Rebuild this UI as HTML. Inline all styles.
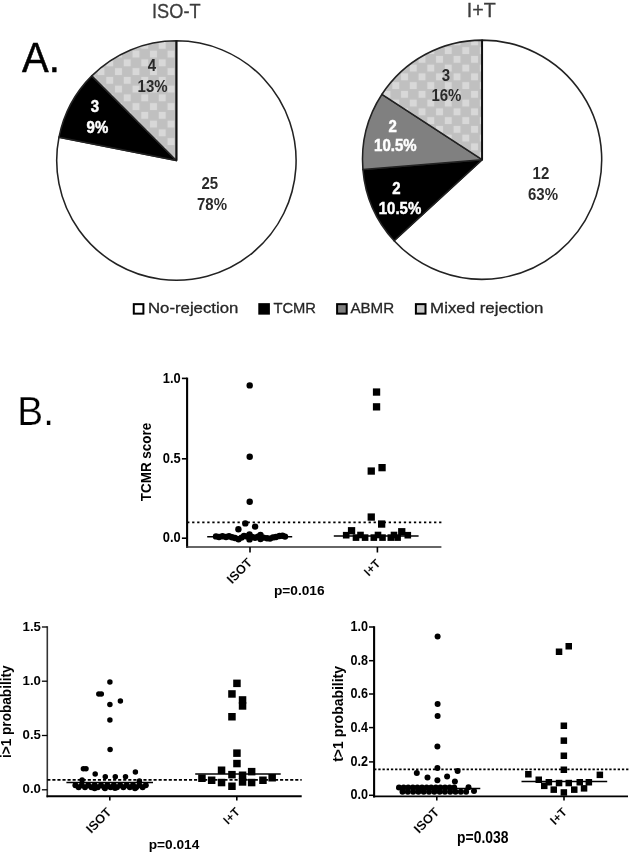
<!DOCTYPE html>
<html><head><meta charset="utf-8"><title>Figure</title>
<style>html,body{margin:0;padding:0;background:#fff;}body{width:629px;height:854px;overflow:hidden;font-family:"Liberation Sans", sans-serif;}svg{display:block;font-family:"Liberation Sans", sans-serif;filter:grayscale(1);}</style></head><body>
<svg width="629" height="854" viewBox="0 0 629 854">
<defs>
<pattern id="chk1" patternUnits="userSpaceOnUse" width="17.5" height="17.5" x="9.1" y="14.7"><rect width="17.5" height="17.5" fill="#c0c0c0"/><rect x="0.9" y="0.9" width="6.95" height="6.95" fill="#d8d8d8"/><rect x="9.65" y="9.65" width="6.95" height="6.95" fill="#d8d8d8"/></pattern>
<pattern id="chk2" patternUnits="userSpaceOnUse" width="17.5" height="17.5" x="6.4" y="11.2"><rect width="17.5" height="17.5" fill="#c0c0c0"/><rect x="0.9" y="0.9" width="6.95" height="6.95" fill="#d8d8d8"/><rect x="9.65" y="9.65" width="6.95" height="6.95" fill="#d8d8d8"/></pattern>
</defs>
<rect width="629" height="854" fill="#fff"/>
<path d="M176.40,160.50 L176.40,40.80 A119.70,119.70 0 1 1 59.00,137.15 Z" fill="#fff" stroke="#222" stroke-width="1.55" stroke-linejoin="round"/>
<path d="M176.40,160.50 L59.00,137.15 A119.70,119.70 0 0 1 91.76,75.86 Z" fill="#000" stroke="#222" stroke-width="1.55" stroke-linejoin="round"/>
<path d="M176.40,160.50 L91.76,75.86 A119.70,119.70 0 0 1 176.40,40.80 Z" fill="url(#chk1)" stroke="#222" stroke-width="1.55" stroke-linejoin="round"/>
<path d="M482.10,159.70 L482.10,40.10 A119.60,119.60 0 1 1 394.11,240.70 Z" fill="#fff" stroke="#222" stroke-width="1.55" stroke-linejoin="round"/>
<path d="M482.10,159.70 L394.11,240.70 A119.60,119.60 0 0 1 362.91,169.58 Z" fill="#000" stroke="#222" stroke-width="1.55" stroke-linejoin="round"/>
<path d="M482.10,159.70 L362.91,169.58 A119.60,119.60 0 0 1 381.97,94.29 Z" fill="#808080" stroke="#222" stroke-width="1.55" stroke-linejoin="round"/>
<path d="M482.10,159.70 L381.97,94.29 A119.60,119.60 0 0 1 482.10,40.10 Z" fill="url(#chk2)" stroke="#222" stroke-width="1.55" stroke-linejoin="round"/>
<line x1="176.4" y1="40.8" x2="176.4" y2="160.5" stroke="#111" stroke-width="1.9"/>
<line x1="482.1" y1="40.099999999999994" x2="482.1" y2="159.7" stroke="#111" stroke-width="1.9"/>
<text x="176.30" y="17.60" font-size="20.4" font-weight="normal" fill="#3c3c3c" text-anchor="middle" textLength="48.50" lengthAdjust="spacingAndGlyphs" stroke="#3c3c3c" stroke-width="0.3">ISO-T</text>
<text x="481.30" y="17.20" font-size="20.4" font-weight="normal" fill="#3c3c3c" text-anchor="middle" textLength="29.00" lengthAdjust="spacingAndGlyphs" stroke="#3c3c3c" stroke-width="0.3">I+T</text>
<text x="22.00" y="71.80" font-size="42.5" font-weight="normal" fill="#000" text-anchor="start" textLength="37.80" lengthAdjust="spacingAndGlyphs" stroke="#000" stroke-width="0.5">A.</text>
<text x="17.30" y="425.20" font-size="40.5" font-weight="normal" fill="#000" text-anchor="start" textLength="36.60" lengthAdjust="spacingAndGlyphs" stroke="#fff" stroke-width="0.25">B.</text>
<text transform="translate(209.80,189.00) scale(1,1.15)" font-size="15" font-weight="bold" fill="#2a2a2a" text-anchor="middle" >25</text>
<text transform="translate(212.00,209.60) scale(1,1.15)" font-size="15" font-weight="bold" fill="#2a2a2a" text-anchor="middle" >78%</text>
<text transform="translate(151.90,71.20) scale(1,1.15)" font-size="15" font-weight="bold" fill="#2a2a2a" text-anchor="middle" >4</text>
<text transform="translate(152.60,92.00) scale(1,1.15)" font-size="15" font-weight="bold" fill="#2a2a2a" text-anchor="middle" >13%</text>
<text transform="translate(95.00,111.80) scale(1,1.15)" font-size="15" font-weight="bold" fill="#fff" text-anchor="middle" stroke="#fff" stroke-width="0.45">3</text>
<text transform="translate(97.40,132.50) scale(1,1.15)" font-size="15" font-weight="bold" fill="#fff" text-anchor="middle" stroke="#fff" stroke-width="0.45">9%</text>
<text transform="translate(540.90,179.00) scale(1,1.15)" font-size="15" font-weight="bold" fill="#2a2a2a" text-anchor="middle" >12</text>
<text transform="translate(543.00,199.90) scale(1,1.15)" font-size="15" font-weight="bold" fill="#2a2a2a" text-anchor="middle" >63%</text>
<text transform="translate(446.00,80.60) scale(1,1.15)" font-size="15" font-weight="bold" fill="#2a2a2a" text-anchor="middle" >3</text>
<text transform="translate(446.40,101.00) scale(1,1.15)" font-size="15" font-weight="bold" fill="#2a2a2a" text-anchor="middle" >16%</text>
<text transform="translate(392.60,132.10) scale(1,1.15)" font-size="15" font-weight="bold" fill="#fff" text-anchor="middle" stroke="#fff" stroke-width="0.45">2</text>
<text transform="translate(395.30,151.20) scale(1,1.15)" font-size="15" font-weight="bold" fill="#fff" text-anchor="middle" stroke="#fff" stroke-width="0.45">10.5%</text>
<text transform="translate(396.40,193.60) scale(1,1.15)" font-size="15" font-weight="bold" fill="#fff" text-anchor="middle" stroke="#fff" stroke-width="0.45">2</text>
<text transform="translate(400.00,214.20) scale(1,1.15)" font-size="15" font-weight="bold" fill="#fff" text-anchor="middle" stroke="#fff" stroke-width="0.45">10.5%</text>
<rect x="133.80" y="304.15" width="9.6" height="9.5" fill="#fff" stroke="#000" stroke-width="2.0"/>
<rect x="259.30" y="304.15" width="9.6" height="9.5" fill="#000" stroke="#000" stroke-width="2.0"/>
<rect x="337.10" y="304.15" width="9.6" height="9.5" fill="#808080" stroke="#000" stroke-width="2.0"/>
<rect x="415.90" y="304.15" width="9.6" height="9.5" fill="#c8c8c8" stroke="#000" stroke-width="2.0"/>
<text x="148.00" y="313.35" font-size="15.5" font-weight="normal" fill="#262626" text-anchor="start" textLength="90.30" lengthAdjust="spacingAndGlyphs" stroke="#262626" stroke-width="0.3">No-rejection</text>
<text x="273.40" y="313.35" font-size="15.5" font-weight="normal" fill="#262626" text-anchor="start" textLength="42.60" lengthAdjust="spacingAndGlyphs" stroke="#262626" stroke-width="0.3">TCMR</text>
<text x="350.40" y="313.35" font-size="15.5" font-weight="normal" fill="#262626" text-anchor="start" textLength="43.80" lengthAdjust="spacingAndGlyphs" stroke="#262626" stroke-width="0.3">ABMR</text>
<text x="430.10" y="313.35" font-size="15.5" font-weight="normal" fill="#262626" text-anchor="start" textLength="113.40" lengthAdjust="spacingAndGlyphs" stroke="#262626" stroke-width="0.3">Mixed rejection</text>
<line x1="187.1" y1="377.6" x2="187.1" y2="547.8" stroke="#000" stroke-width="2.1"/>
<line x1="186.0" y1="547.0" x2="441.4" y2="547.0" stroke="#333" stroke-width="1.5"/>
<line x1="181.9" y1="378.4" x2="187.1" y2="378.4" stroke="#000" stroke-width="1.6"/>
<text x="180.70" y="382.60" font-size="14.8" font-weight="bold" fill="#000" text-anchor="end" textLength="17.90" lengthAdjust="spacingAndGlyphs" >1.0</text>
<line x1="181.9" y1="458.8" x2="187.1" y2="458.8" stroke="#000" stroke-width="1.6"/>
<text x="180.70" y="463.00" font-size="14.8" font-weight="bold" fill="#000" text-anchor="end" textLength="17.90" lengthAdjust="spacingAndGlyphs" >0.5</text>
<line x1="181.9" y1="538.2" x2="187.1" y2="538.2" stroke="#000" stroke-width="1.6"/>
<text x="180.70" y="542.40" font-size="14.8" font-weight="bold" fill="#000" text-anchor="end" textLength="17.90" lengthAdjust="spacingAndGlyphs" >0.0</text>
<line x1="250.0" y1="547.0" x2="250.0" y2="552.5" stroke="#000" stroke-width="1.6"/>
<line x1="377.4" y1="547.0" x2="377.4" y2="552.5" stroke="#000" stroke-width="1.6"/>
<line x1="187.1" y1="522.4" x2="441.4" y2="522.4" stroke="#000" stroke-width="1.9" stroke-dasharray="2.3 2.74"/>
<text transform="translate(151.4,462.0) rotate(-90)" font-size="15.0" font-weight="bold" text-anchor="middle" fill="#000" stroke="#fff" stroke-width="0" textLength="78.6" lengthAdjust="spacingAndGlyphs">TCMR score</text>
<text transform="translate(253.0,563.5) rotate(-45)" font-size="12.8" font-weight="bold" text-anchor="end" fill="#000" stroke="#fff" stroke-width="0.1">ISOT</text>
<text transform="translate(381.2,564.2) rotate(-45)" font-size="12.0" font-weight="bold" text-anchor="end" fill="#000" stroke="#fff" stroke-width="0.1">I+T</text>
<text x="299.30" y="595.30" font-size="13.7" font-weight="bold" fill="#000" text-anchor="middle" >p=0.016</text>
<circle cx="249.7" cy="385.4" r="3.2" fill="#000"/>
<circle cx="249.7" cy="456.7" r="3.2" fill="#000"/>
<circle cx="249.7" cy="501.7" r="3.2" fill="#000"/>
<circle cx="245.3" cy="523.4" r="3.2" fill="#000"/>
<circle cx="255.1" cy="526.6" r="3.2" fill="#000"/>
<circle cx="238.4" cy="529.3" r="3.2" fill="#000"/>
<circle cx="216.0" cy="536.4" r="3.2" fill="#000"/>
<circle cx="219.0" cy="537.0" r="3.2" fill="#000"/>
<circle cx="222.5" cy="536.2" r="3.2" fill="#000"/>
<circle cx="226.0" cy="537.0" r="3.2" fill="#000"/>
<circle cx="229.0" cy="536.2" r="3.2" fill="#000"/>
<circle cx="232.0" cy="537.2" r="3.2" fill="#000"/>
<circle cx="235.0" cy="538.0" r="3.2" fill="#000"/>
<circle cx="238.5" cy="539.2" r="3.2" fill="#000"/>
<circle cx="241.5" cy="537.6" r="3.2" fill="#000"/>
<circle cx="244.0" cy="536.0" r="3.2" fill="#000"/>
<circle cx="247.0" cy="536.4" r="3.2" fill="#000"/>
<circle cx="249.5" cy="534.4" r="3.2" fill="#000"/>
<circle cx="249.5" cy="539.4" r="3.2" fill="#000"/>
<circle cx="252.0" cy="537.0" r="3.2" fill="#000"/>
<circle cx="255.0" cy="537.8" r="3.2" fill="#000"/>
<circle cx="258.0" cy="536.8" r="3.2" fill="#000"/>
<circle cx="260.5" cy="535.0" r="3.2" fill="#000"/>
<circle cx="260.5" cy="539.0" r="3.2" fill="#000"/>
<circle cx="263.5" cy="537.6" r="3.2" fill="#000"/>
<circle cx="267.0" cy="538.2" r="3.2" fill="#000"/>
<circle cx="270.0" cy="538.6" r="3.2" fill="#000"/>
<circle cx="273.0" cy="537.4" r="3.2" fill="#000"/>
<circle cx="276.0" cy="537.0" r="3.2" fill="#000"/>
<circle cx="279.5" cy="536.0" r="3.2" fill="#000"/>
<circle cx="282.5" cy="535.8" r="3.2" fill="#000"/>
<circle cx="285.0" cy="536.6" r="3.2" fill="#000"/>
<line x1="207.2" y1="536.7" x2="292.2" y2="536.7" stroke="#000" stroke-width="1.6"/>
<rect x="372.9" y="388.4" width="7.3" height="7.3" fill="#000"/>
<rect x="372.9" y="403.2" width="7.3" height="7.3" fill="#000"/>
<rect x="378.4" y="464.0" width="7.3" height="7.3" fill="#000"/>
<rect x="367.6" y="467.4" width="7.3" height="7.3" fill="#000"/>
<rect x="367.6" y="513.4" width="7.3" height="7.3" fill="#000"/>
<rect x="378.0" y="520.4" width="7.3" height="7.3" fill="#000"/>
<rect x="347.9" y="527.1" width="7.3" height="7.3" fill="#000"/>
<rect x="398.1" y="528.1" width="7.3" height="7.3" fill="#000"/>
<rect x="342.9" y="531.9" width="6.6" height="6.6" fill="#000"/>
<rect x="404.5" y="531.9" width="6.6" height="6.6" fill="#000"/>
<rect x="357.2" y="531.7" width="6.6" height="6.6" fill="#000"/>
<rect x="374.7" y="531.7" width="6.6" height="6.6" fill="#000"/>
<rect x="390.7" y="531.7" width="6.6" height="6.6" fill="#000"/>
<rect x="352.7" y="534.3" width="6.6" height="6.6" fill="#000"/>
<rect x="361.8" y="534.3" width="6.6" height="6.6" fill="#000"/>
<rect x="370.5" y="534.3" width="6.6" height="6.6" fill="#000"/>
<rect x="379.2" y="534.3" width="6.6" height="6.6" fill="#000"/>
<rect x="387.5" y="534.3" width="6.6" height="6.6" fill="#000"/>
<rect x="394.3" y="534.3" width="6.6" height="6.6" fill="#000"/>
<line x1="333.8" y1="536.0" x2="418.6" y2="536.0" stroke="#000" stroke-width="1.6"/>
<line x1="47.3" y1="626.2" x2="47.3" y2="797.3" stroke="#333" stroke-width="1.6"/>
<line x1="46.5" y1="796.3" x2="301.7" y2="796.3" stroke="#000" stroke-width="2.1"/>
<line x1="41.9" y1="627.0" x2="47.3" y2="627.0" stroke="#000" stroke-width="1.3"/>
<text x="40.90" y="630.60" font-size="13.2" font-weight="bold" fill="#000" text-anchor="end" >1.5</text>
<line x1="41.9" y1="681.2" x2="47.3" y2="681.2" stroke="#000" stroke-width="1.3"/>
<text x="40.90" y="684.80" font-size="13.2" font-weight="bold" fill="#000" text-anchor="end" >1.0</text>
<line x1="41.9" y1="735.5" x2="47.3" y2="735.5" stroke="#000" stroke-width="1.3"/>
<text x="40.90" y="739.10" font-size="13.2" font-weight="bold" fill="#000" text-anchor="end" >0.5</text>
<line x1="41.9" y1="789.8" x2="47.3" y2="789.8" stroke="#000" stroke-width="1.3"/>
<text x="40.90" y="793.40" font-size="13.2" font-weight="bold" fill="#000" text-anchor="end" >0.0</text>
<line x1="109.8" y1="796.3" x2="109.8" y2="800.4" stroke="#000" stroke-width="1.6"/>
<line x1="236.8" y1="796.3" x2="236.8" y2="800.4" stroke="#000" stroke-width="1.6"/>
<line x1="47.3" y1="779.9" x2="301.7" y2="779.9" stroke="#000" stroke-width="1.6" stroke-dasharray="3.1 1.96"/>
<text transform="translate(10.9,711.7) rotate(-90)" font-size="14.0" font-weight="bold" text-anchor="middle" fill="#000" stroke="#fff" stroke-width="0" textLength="92.7" lengthAdjust="spacingAndGlyphs">i&gt;1 probability</text>
<text transform="translate(112.4,813.0) rotate(-45)" font-size="12.8" font-weight="bold" text-anchor="end" fill="#000" stroke="#fff" stroke-width="0.1">ISOT</text>
<text transform="translate(240.6,812.6) rotate(-45)" font-size="12.0" font-weight="bold" text-anchor="end" fill="#000" stroke="#fff" stroke-width="0.1">I+T</text>
<text x="174.00" y="848.50" font-size="13.7" font-weight="bold" fill="#000" text-anchor="middle" >p=0.014</text>
<circle cx="109.9" cy="681.9" r="2.75" fill="#000"/>
<circle cx="98.8" cy="693.9" r="2.75" fill="#000"/>
<circle cx="101.3" cy="693.9" r="2.75" fill="#000"/>
<circle cx="109.9" cy="704.6" r="2.75" fill="#000"/>
<circle cx="120.4" cy="701.0" r="2.75" fill="#000"/>
<circle cx="109.9" cy="720.1" r="2.75" fill="#000"/>
<circle cx="110.1" cy="749.6" r="2.75" fill="#000"/>
<circle cx="83.4" cy="768.8" r="2.75" fill="#000"/>
<circle cx="86.0" cy="768.8" r="2.75" fill="#000"/>
<circle cx="135.4" cy="772.0" r="2.75" fill="#000"/>
<circle cx="95.2" cy="774.1" r="2.75" fill="#000"/>
<circle cx="105.3" cy="776.7" r="2.75" fill="#000"/>
<circle cx="115.3" cy="776.7" r="2.75" fill="#000"/>
<circle cx="125.5" cy="776.7" r="2.75" fill="#000"/>
<circle cx="82.1" cy="779.9" r="2.75" fill="#000"/>
<circle cx="139.4" cy="781.0" r="2.75" fill="#000"/>
<circle cx="75.4" cy="785.3" r="3.0" fill="#000"/>
<circle cx="78.6" cy="787.3" r="3.0" fill="#000"/>
<circle cx="81.8" cy="785.3" r="3.0" fill="#000"/>
<circle cx="85.0" cy="787.3" r="3.0" fill="#000"/>
<circle cx="88.2" cy="785.3" r="3.0" fill="#000"/>
<circle cx="91.4" cy="787.3" r="3.0" fill="#000"/>
<circle cx="94.6" cy="785.3" r="3.0" fill="#000"/>
<circle cx="97.8" cy="787.3" r="3.0" fill="#000"/>
<circle cx="101.0" cy="785.3" r="3.0" fill="#000"/>
<circle cx="104.2" cy="787.3" r="3.0" fill="#000"/>
<circle cx="107.4" cy="785.3" r="3.0" fill="#000"/>
<circle cx="110.6" cy="787.3" r="3.0" fill="#000"/>
<circle cx="113.8" cy="785.3" r="3.0" fill="#000"/>
<circle cx="117.0" cy="787.3" r="3.0" fill="#000"/>
<circle cx="120.2" cy="785.3" r="3.0" fill="#000"/>
<circle cx="123.4" cy="787.3" r="3.0" fill="#000"/>
<circle cx="126.6" cy="785.3" r="3.0" fill="#000"/>
<circle cx="129.8" cy="787.3" r="3.0" fill="#000"/>
<circle cx="133.0" cy="785.3" r="3.0" fill="#000"/>
<circle cx="136.2" cy="787.3" r="3.0" fill="#000"/>
<circle cx="139.4" cy="785.3" r="3.0" fill="#000"/>
<circle cx="142.6" cy="787.3" r="3.0" fill="#000"/>
<circle cx="145.8" cy="785.3" r="3.0" fill="#000"/>
<circle cx="94.6" cy="788.3" r="3.0" fill="#000"/>
<circle cx="105.0" cy="788.3" r="3.0" fill="#000"/>
<circle cx="115.0" cy="788.0" r="3.0" fill="#000"/>
<circle cx="135.0" cy="788.3" r="3.0" fill="#000"/>
<line x1="66.4" y1="782.6" x2="153.0" y2="782.6" stroke="#000" stroke-width="1.5"/>
<rect x="233.2" y="679.6" width="7.5" height="7.5" fill="#000"/>
<rect x="228.2" y="690.2" width="7.5" height="7.5" fill="#000"/>
<rect x="238.8" y="696.2" width="7.5" height="7.5" fill="#000"/>
<rect x="238.8" y="702.2" width="7.5" height="7.5" fill="#000"/>
<rect x="228.2" y="713.0" width="7.5" height="7.5" fill="#000"/>
<rect x="233.2" y="749.4" width="7.5" height="7.5" fill="#000"/>
<rect x="233.2" y="759.8" width="7.5" height="7.5" fill="#000"/>
<rect x="217.8" y="766.5" width="7.5" height="7.5" fill="#000"/>
<rect x="247.9" y="767.9" width="7.5" height="7.5" fill="#000"/>
<rect x="228.2" y="770.9" width="7.5" height="7.5" fill="#000"/>
<rect x="238.8" y="771.5" width="7.5" height="7.5" fill="#000"/>
<rect x="198.2" y="774.5" width="7.5" height="7.5" fill="#000"/>
<rect x="268.4" y="774.0" width="7.5" height="7.5" fill="#000"/>
<rect x="207.9" y="776.5" width="7.5" height="7.5" fill="#000"/>
<rect x="259.2" y="776.5" width="7.5" height="7.5" fill="#000"/>
<rect x="217.8" y="778.8" width="7.5" height="7.5" fill="#000"/>
<rect x="238.8" y="778.2" width="7.5" height="7.5" fill="#000"/>
<rect x="247.9" y="778.8" width="7.5" height="7.5" fill="#000"/>
<rect x="228.2" y="782.5" width="7.5" height="7.5" fill="#000"/>
<line x1="195.2" y1="774.0" x2="280.7" y2="774.0" stroke="#000" stroke-width="1.6"/>
<line x1="374.1" y1="626.2" x2="374.1" y2="797.5" stroke="#000" stroke-width="2.1"/>
<line x1="373.1" y1="796.4" x2="628.0" y2="796.4" stroke="#000" stroke-width="1.7"/>
<line x1="369.0" y1="627.0" x2="374.1" y2="627.0" stroke="#000" stroke-width="1.5"/>
<text x="367.90" y="631.00" font-size="14.2" font-weight="bold" fill="#000" text-anchor="end" textLength="17.50" lengthAdjust="spacingAndGlyphs" >1.0</text>
<line x1="369.0" y1="660.7" x2="374.1" y2="660.7" stroke="#000" stroke-width="1.5"/>
<text x="367.90" y="664.70" font-size="14.2" font-weight="bold" fill="#000" text-anchor="end" textLength="17.50" lengthAdjust="spacingAndGlyphs" >0.8</text>
<line x1="369.0" y1="694.0" x2="374.1" y2="694.0" stroke="#000" stroke-width="1.5"/>
<text x="367.90" y="698.00" font-size="14.2" font-weight="bold" fill="#000" text-anchor="end" textLength="17.50" lengthAdjust="spacingAndGlyphs" >0.6</text>
<line x1="369.0" y1="727.6" x2="374.1" y2="727.6" stroke="#000" stroke-width="1.5"/>
<text x="367.90" y="731.60" font-size="14.2" font-weight="bold" fill="#000" text-anchor="end" textLength="17.50" lengthAdjust="spacingAndGlyphs" >0.4</text>
<line x1="369.0" y1="761.9" x2="374.1" y2="761.9" stroke="#000" stroke-width="1.5"/>
<text x="367.90" y="765.90" font-size="14.2" font-weight="bold" fill="#000" text-anchor="end" textLength="17.50" lengthAdjust="spacingAndGlyphs" >0.2</text>
<line x1="369.0" y1="795.3" x2="374.1" y2="795.3" stroke="#000" stroke-width="1.5"/>
<text x="367.90" y="799.30" font-size="14.2" font-weight="bold" fill="#000" text-anchor="end" textLength="17.50" lengthAdjust="spacingAndGlyphs" >0.0</text>
<line x1="436.8" y1="796.5" x2="436.8" y2="800.4" stroke="#000" stroke-width="1.6"/>
<line x1="564.0" y1="796.5" x2="564.0" y2="800.4" stroke="#000" stroke-width="1.6"/>
<line x1="374.1" y1="769.3" x2="629.0" y2="769.3" stroke="#000" stroke-width="1.7" stroke-dasharray="2.3 1.9"/>
<text transform="translate(343.0,713.9) rotate(-90)" font-size="15.0" font-weight="bold" text-anchor="middle" fill="#000" stroke="#fff" stroke-width="0" textLength="95.8" lengthAdjust="spacingAndGlyphs">t&gt;1 probability</text>
<text transform="translate(440.0,813.0) rotate(-45)" font-size="12.8" font-weight="bold" text-anchor="end" fill="#000" stroke="#fff" stroke-width="0.1">ISOT</text>
<text transform="translate(567.8,812.8) rotate(-45)" font-size="12.2" font-weight="bold" text-anchor="end" fill="#000" stroke="#fff" stroke-width="0.1">I+T</text>
<text transform="translate(482.8,843.4) scale(1,1.16)" font-size="13.9" font-weight="bold" text-anchor="middle">p=0.038</text>
<circle cx="437.6" cy="636.6" r="3.0" fill="#000"/>
<circle cx="437.6" cy="704.1" r="3.0" fill="#000"/>
<circle cx="437.6" cy="716.0" r="3.0" fill="#000"/>
<circle cx="437.4" cy="746.5" r="3.0" fill="#000"/>
<circle cx="437.4" cy="768.0" r="3.0" fill="#000"/>
<circle cx="416.8" cy="772.9" r="3.0" fill="#000"/>
<circle cx="457.6" cy="771.1" r="3.0" fill="#000"/>
<circle cx="427.5" cy="777.6" r="3.0" fill="#000"/>
<circle cx="447.1" cy="776.4" r="3.0" fill="#000"/>
<circle cx="437.4" cy="780.2" r="3.0" fill="#000"/>
<circle cx="454.9" cy="781.6" r="3.0" fill="#000"/>
<circle cx="399.0" cy="787.4" r="3.0" fill="#000"/>
<circle cx="403.6" cy="787.4" r="3.0" fill="#000"/>
<circle cx="408.2" cy="787.4" r="3.0" fill="#000"/>
<circle cx="412.8" cy="787.4" r="3.0" fill="#000"/>
<circle cx="417.4" cy="787.4" r="3.0" fill="#000"/>
<circle cx="422.0" cy="787.4" r="3.0" fill="#000"/>
<circle cx="426.6" cy="787.4" r="3.0" fill="#000"/>
<circle cx="431.2" cy="787.4" r="3.0" fill="#000"/>
<circle cx="435.8" cy="787.4" r="3.0" fill="#000"/>
<circle cx="440.4" cy="787.4" r="3.0" fill="#000"/>
<circle cx="445.0" cy="787.4" r="3.0" fill="#000"/>
<circle cx="449.6" cy="787.4" r="3.0" fill="#000"/>
<circle cx="454.2" cy="787.4" r="3.0" fill="#000"/>
<circle cx="402.5" cy="791.7" r="3.0" fill="#000"/>
<circle cx="407.8" cy="791.7" r="3.0" fill="#000"/>
<circle cx="413.1" cy="791.7" r="3.0" fill="#000"/>
<circle cx="418.4" cy="791.7" r="3.0" fill="#000"/>
<circle cx="423.7" cy="791.7" r="3.0" fill="#000"/>
<circle cx="429.0" cy="791.7" r="3.0" fill="#000"/>
<circle cx="434.3" cy="791.7" r="3.0" fill="#000"/>
<circle cx="439.6" cy="791.7" r="3.0" fill="#000"/>
<circle cx="444.9" cy="791.7" r="3.0" fill="#000"/>
<circle cx="450.2" cy="791.7" r="3.0" fill="#000"/>
<circle cx="455.5" cy="791.7" r="3.0" fill="#000"/>
<circle cx="460.8" cy="791.7" r="3.0" fill="#000"/>
<circle cx="466.1" cy="791.7" r="3.0" fill="#000"/>
<circle cx="468.5" cy="787.2" r="3.0" fill="#000"/>
<circle cx="474.0" cy="791.0" r="3.0" fill="#000"/>
<line x1="396.4" y1="788.6" x2="480.3" y2="788.6" stroke="#000" stroke-width="1.5"/>
<rect x="565.5" y="643.0" width="6.5" height="6.5" fill="#000"/>
<rect x="555.8" y="648.5" width="6.5" height="6.5" fill="#000"/>
<rect x="560.6" y="722.5" width="6.5" height="6.5" fill="#000"/>
<rect x="560.6" y="737.4" width="6.5" height="6.5" fill="#000"/>
<rect x="560.6" y="752.5" width="6.5" height="6.5" fill="#000"/>
<rect x="560.6" y="766.5" width="6.5" height="6.5" fill="#000"/>
<rect x="525.1" y="771.0" width="6.5" height="6.5" fill="#000"/>
<rect x="596.6" y="771.6" width="6.5" height="6.5" fill="#000"/>
<rect x="535.5" y="776.5" width="6.5" height="6.5" fill="#000"/>
<rect x="545.6" y="779.0" width="6.5" height="6.5" fill="#000"/>
<rect x="555.8" y="779.8" width="6.5" height="6.5" fill="#000"/>
<rect x="565.5" y="779.8" width="6.5" height="6.5" fill="#000"/>
<rect x="576.5" y="779.0" width="6.5" height="6.5" fill="#000"/>
<rect x="585.6" y="779.0" width="6.5" height="6.5" fill="#000"/>
<rect x="541.0" y="782.6" width="6.5" height="6.5" fill="#000"/>
<rect x="580.8" y="785.1" width="6.5" height="6.5" fill="#000"/>
<rect x="550.5" y="786.4" width="6.5" height="6.5" fill="#000"/>
<rect x="571.0" y="786.4" width="6.5" height="6.5" fill="#000"/>
<rect x="560.6" y="789.2" width="6.5" height="6.5" fill="#000"/>
<line x1="521.5" y1="781.5" x2="607.2" y2="781.5" stroke="#000" stroke-width="1.6"/>
</svg></body></html>
